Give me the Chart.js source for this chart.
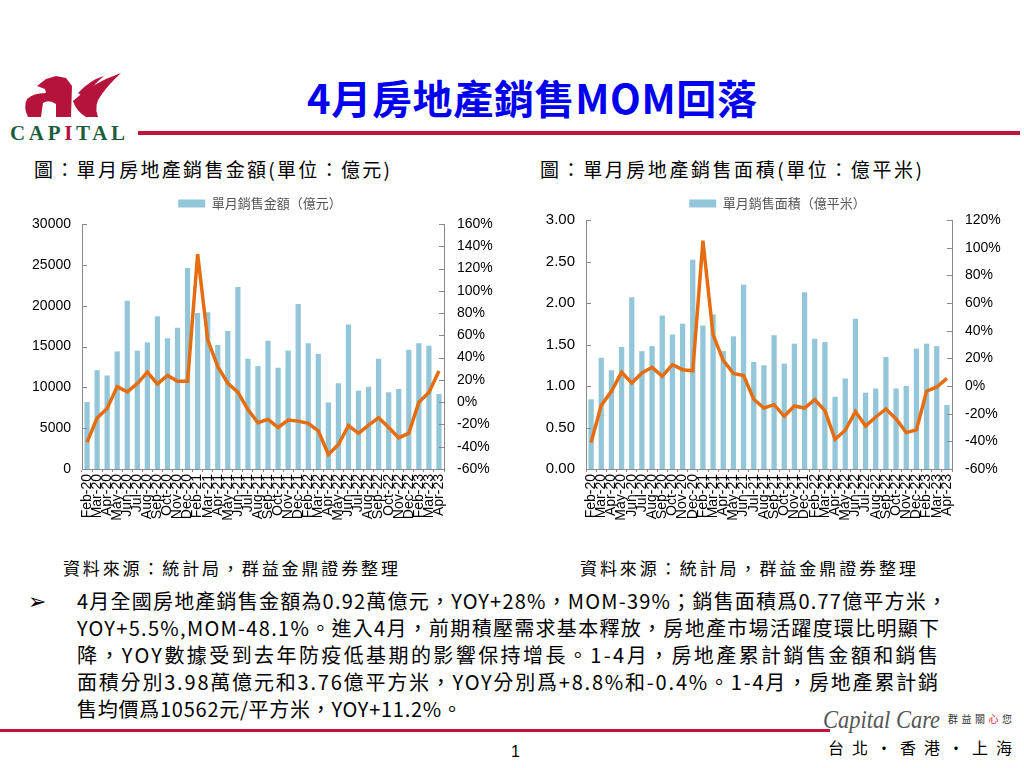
<!DOCTYPE html>
<html><head><meta charset="utf-8">
<script src="https://cdn.jsdelivr.net/npm/chart.js@4.4.0/dist/chart.umd.min.js"></script>
<style>
html,body{margin:0;padding:0;}
body{width:1024px;height:768px;background:#fff;position:relative;overflow:hidden;font-family:"Noto Sans CJK TC","Noto Sans CJK SC",sans-serif;color:#000;}
.t{position:absolute;white-space:nowrap;line-height:1;transform-origin:0 50%;}
.cv{position:absolute;}
</style></head><body>

<svg width="1024" height="768" style="position:absolute;left:0;top:0" xmlns="http://www.w3.org/2000/svg">
  <!-- logo bird -->
  <path d="M37,86 L46,79 L56,76 L66,78 L72,86 L71,117 L56,117 L56,104 Q49,99 43,103 L41,117 L28,117 Q23,107 27,99 Q33,93 46,93 L45,89 Z" fill="#B5133C"/>
  <path d="M73,101 Q92,83 121,73 Q109,84 102,94 Q93,105 98,117 L86,117 Q76,111 73,101 Z" fill="#B5133C"/>
  <path d="M78,93 Q90,80 104,76 Q92,86 84,97 Z" fill="#B5133C"/>
  <text x="10" y="140" font-family="Liberation Serif" font-weight="bold" font-size="21" fill="#1B5E3F" textLength="115" lengthAdjust="spacing">CAP<tspan fill="#B5133C">I</tspan>TAL</text>
  <rect x="138" y="131" width="882" height="4" fill="#C0143C"/>
  <rect x="0" y="729" width="830" height="3" fill="#C0143C"/>
  <text x="823" y="728" font-family="Liberation Serif" font-style="italic" font-size="26" fill="#555" textLength="117" lengthAdjust="spacingAndGlyphs">Capital Care</text>
  <text x="948" y="723" font-family="Noto Sans CJK TC" font-size="10" fill="#333" textLength="64" lengthAdjust="spacing">群益關<tspan fill="#E0102A">心</tspan>您</text>
</svg>

<div class="t" id="title" data-x="307" data-y="97" data-w="450" style="font-size:40px;font-weight:bold;color:#0000F0;">4月房地產銷售MOM回落</div>
<div class="t" data-x="34" data-y="168" data-w="356" style="font-size:19px;">圖：單月房地產銷售金額(單位：億元)</div>
<div class="t" data-x="540" data-y="168" data-w="382" style="font-size:19px;">圖：單月房地產銷售面積(單位：億平米)</div>
<div class="t" data-x="63" data-y="567" data-w="335" style="font-size:17px;">資料來源：統計局，群益金鼎證券整理</div>
<div class="t" data-x="580" data-y="567" data-w="336" style="font-size:17px;">資料來源：統計局，群益金鼎證券整理</div>
<div class="t" data-x="28" data-y="602" style="font-size:22px;font-family:'DejaVu Sans';">➢</div>
<div class="t" data-x="77" data-y="601" data-w="870" style="font-size:20px;">4月全國房地產銷售金額為0.92萬億元，YOY+28%，MOM-39%；銷售面積爲0.77億平方米，</div>
<div class="t" data-x="77" data-y="628" data-w="862" style="font-size:20px;">YOY+5.5%,MOM-48.1%。進入4月，前期積壓需求基本釋放，房地產市場活躍度環比明顯下</div>
<div class="t" data-x="77" data-y="655" data-w="861" style="font-size:20px;">降，YOY數據受到去年防疫低基期的影響保持增長。1-4月，房地產累計銷售金額和銷售</div>
<div class="t" data-x="77" data-y="682" data-w="861" style="font-size:20px;">面積分別3.98萬億元和3.76億平方米，YOY分別爲+8.8%和-0.4%。1-4月，房地產累計銷</div>
<div class="t" data-x="77" data-y="709" data-w="385" style="font-size:20px;">售均價爲10562元/平方米，YOY+11.2%。</div>
<div class="t" data-x="511" data-y="752" style="font-size:16px;font-family:'Liberation Sans';">1</div>
<div class="t" data-x="828" data-y="747" data-w="184" style="font-size:16px;">台北・香港・上海</div>

<div class="cv" style="left:20px;top:187px;width:480px;height:348px;"><canvas id="c1"></canvas></div>
<div class="cv" style="left:540px;top:187px;width:475px;height:348px;"><canvas id="c2"></canvas></div>

<script>
// ---------- data ----------
const months = ["Feb-20","Mar-20","Apr-20","May-20","Jun-20","Jul-20","Aug-20","Sep-20","Oct-20","Nov-20","Dec-20",
  "Feb-21","Mar-21","Apr-21","May-21","Jun-21","Jul-21","Aug-21","Sep-21","Oct-21","Nov-21","Dec-21",
  "Feb-22","Mar-22","Apr-22","May-22","Jun-22","Jul-22","Aug-22","Sep-22","Oct-22","Nov-22","Dec-22",
  "Feb-23","Mar-23","Apr-23"];
const salesAmount = [8200,12100,11450,14400,20600,14500,15500,18700,16000,17300,24600,
  19100,19200,15200,16900,22300,13500,12600,15700,12400,14500,20200,
  15400,14100,8150,10500,17700,9600,10070,13500,9400,9800,14600,
  15400,15100,9200];
const salesAmountYoy = [-36,-14.3,-5.7,14,9.3,16.7,27,16.4,24,18.8,18.8,
  133,56,32,17,9,-6.6,-18.5,-15.5,-22.7,-16,-17,
  -19,-25.7,-47,-38,-21,-28,-20.6,-14,-22.7,-32,-27.8,
  0,8.7,28];
const salesArea = [0.84,1.34,1.19,1.47,2.07,1.42,1.48,1.85,1.62,1.75,2.52,
  1.73,1.86,1.42,1.60,2.22,1.29,1.25,1.61,1.27,1.51,2.13,
  1.57,1.53,0.87,1.09,1.81,0.92,0.97,1.35,0.97,1.00,1.45,
  1.51,1.48,0.77];
const salesAreaYoy = [-40.9,-14,-3.8,9.9,2.2,9.4,13.5,7,15.4,11.8,11,
  105,37,18.5,9.1,7.5,-9.6,-15.9,-13.5,-21.9,-14.4,-15.9,
  -9.9,-17.8,-38.5,-32,-18.5,-29,-22.4,-16.6,-23.8,-33.7,-31.7,
  -3.8,-0.7,5.5];
const amountTicks = [0,5000,10000,15000,20000,25000,30000];
const amountPctTicks = [-60,-40,-20,0,20,40,60,80,100,120,140,160];
const areaTicks = [0,0.5,1,1.5,2,2.5,3];
const areaPctTicks = [-60,-40,-20,0,20,40,60,80,100,120];
const amountLabel = "單月銷售金額（億元）";
const areaLabel = "單月銷售面積（億平米）";

// ---------- text placement ----------
document.querySelectorAll('.t').forEach(el=>{
  const x=+el.dataset.x, y=+el.dataset.y;
  el.style.left=x+'px';
  const h=el.getBoundingClientRect().height;
  el.style.top=(y-h/2)+'px';
  if(el.dataset.w){
    const target=+el.dataset.w;
    const nat=el.getBoundingClientRect().width;
    const n=[...el.textContent].length;
    if(nat<target){ el.style.letterSpacing=((target-nat)/(n-1))+'px'; }
    else { el.style.transform='scaleX('+(target/nat)+')'; }
  }
});

// ---------- charts ----------
const BAR='#93C6D9', LINE='#E66C10', AX='#8A8A8A';
const innerTicks = {
  id:'innerTicks',
  afterDatasetsDraw(chart){
    const ctx=chart.ctx, a=chart.chartArea;
    ctx.save(); ctx.strokeStyle=AX; ctx.lineWidth=1;
    ['y','y1'].forEach(id=>{
      const s=chart.scales[id]; const left=s.position==='left';
      const x=left?a.left:a.right; const d=left?5:-5;
      s.ticks.forEach(t=>{
        const y=Math.round(s.getPixelForValue(t.value))+0.5;
        ctx.beginPath(); ctx.moveTo(x,y); ctx.lineTo(x+d,y); ctx.stroke();
      });
    });
    ctx.restore();
  }
};
function legendGap(extra){
  return {
    id:'legendGap',
    beforeLayout(chart){
      const lg=chart.legend;
      if(lg && !lg._gapWrapped){
        const f=lg.fit;
        lg.fit=function(){ f.call(this); this.height+=extra; };
        lg._gapWrapped=true;
      }
    }
  };
}
function makeChart(id, bars, yoy, label, lTicks, rTicks, lFmt, lw, rw, lFont, extraGap){
  return new Chart(document.getElementById(id),{
    data:{labels:months,datasets:[
      {type:'line',label:'YoY',data:yoy,yAxisID:'y1',borderColor:LINE,borderWidth:3.5,pointRadius:0,tension:0,order:0,fill:false},
      {type:'bar',label:label,data:bars,yAxisID:'y',backgroundColor:BAR,barPercentage:0.52,categoryPercentage:1.0,order:1}
    ]},
    options:{
      responsive:true,maintainAspectRatio:false,animation:false,
      layout:{padding:{left:0,right:0,top:0,bottom:0}},
      plugins:{
        legend:{position:'top',labels:{filter:(it)=>it.text!=='YoY',boxWidth:27,boxHeight:8,padding:10,color:'#555',font:{family:'Noto Sans CJK TC',size:13}}},
        tooltip:{enabled:false}
      },
      scales:{
        x:{offset:true,grid:{display:true,drawOnChartArea:false,offset:true,tickLength:3,color:AX},border:{color:AX},
           ticks:{autoSkip:false,maxRotation:90,minRotation:90,padding:2,color:'#000',font:{family:'Liberation Sans',size:14}},
           afterFit(s){s.height=66;}},
        y:{position:'left',min:lTicks[0],max:lTicks[lTicks.length-1],
           afterBuildTicks(s){s.ticks=lTicks.map(v=>({value:v}));},
           grid:{display:false,drawTicks:false},border:{display:true,color:AX},
           ticks:{padding:11,color:'#000',font:{family:'Liberation Sans',size:lFont},callback:lFmt},
           afterFit(s){s.width=lw;}},
        y1:{position:'right',min:rTicks[0],max:rTicks[rTicks.length-1],
           afterBuildTicks(s){s.ticks=rTicks.map(v=>({value:v}));},
           grid:{display:false,drawTicks:false},border:{display:true,color:AX},
           ticks:{padding:13,color:'#000',font:{family:'Liberation Sans',size:14},callback:v=>v+'%'},
           afterFit(s){s.width=rw;}}
      }
    },
    plugins:[innerTicks, legendGap(extraGap)]
  });
}
makeChart('c1',salesAmount,salesAmountYoy,amountLabel,amountTicks,amountPctTicks,v=>String(v),62,56,14,4);
makeChart('c2',salesArea,salesAreaYoy,areaLabel,areaTicks,areaPctTicks,v=>v.toFixed(2),46,63,15,0);
</script>
</body></html>
